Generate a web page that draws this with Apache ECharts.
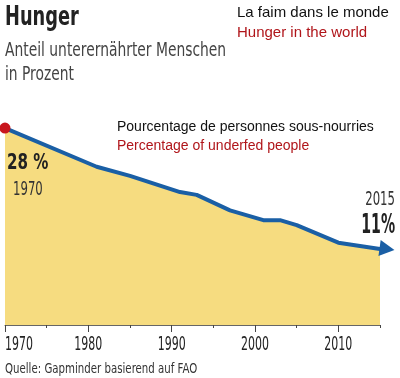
<!DOCTYPE html>
<html>
<head>
<meta charset="utf-8">
<script src="https://cdn.jsdelivr.net/npm/echarts@6/dist/echarts.min.js"></script>
<style>
html,body{margin:0;padding:0;background:#fff;}
#c{width:400px;height:378px;}
</style>
</head>
<body>
<div id="c"></div>
<script>
// Data
const years = [1970, 1981, 1985, 1991, 1993, 1997, 2001, 2003, 2005, 2010, 2015];
const values = [28, 22.5, 21.2, 18.9, 18.5, 16.3, 14.9, 14.9, 14.2, 11.7, 10.8];
const majorTicks = [1970, 1980, 1990, 2000, 2010];
const minorTicks = [1975, 1985, 1995, 2005, 2015];
const startLabel = '28 %';
const endLabel = '11%';

const COND = '"DejaVu Sans Condensed", "DejaVu Sans", sans-serif';
const ARIAL = '"Liberation Sans", Arial, sans-serif';

const chart = echarts.init(document.getElementById('c'), null, {renderer: 'canvas'});

const data = years.map((y, i) => {
  const d = {value: [y, values[i]]};
  if (i === 0) {
    d.symbol = 'circle'; d.symbolSize = 11;
    d.itemStyle = {color: '#c8161d'};
  } else if (i === years.length - 1) {
    d.symbol = 'triangle'; d.symbolSize = [16, 15];
    d.symbolRotate = -98; d.symbolOffset = [7, 0];
    d.itemStyle = {color: '#1a5fa5'};
  }
  return d;
});

function txt(x, y, text, size, opts, sx) {
  return {
    type: 'text', x: x, y: y, silent: true, z: 100, scaleX: sx || 1,
    style: Object.assign({
      text: text, fontSize: size, fontFamily: COND, fill: '#333',
      verticalAlign: 'middle', align: 'left'
    }, opts || {})
  };
}

chart.setOption({
  animation: false,
  grid: {left: 5, right: 20, top: 114, bottom: 53},
  xAxis: [{
    type: 'value', min: 1970, max: 2015, position: 'bottom',
    axisLine: {show: true, onZero: false, lineStyle: {color: '#666', width: 1}},
    axisTick: {show: true, length: 7, lineStyle: {color: '#444'}, customValues: majorTicks},
    axisLabel: {show: false},
    splitLine: {show: false}
  }, {
    type: 'value', min: 1970, max: 2015, position: 'bottom',
    axisLine: {show: false, onZero: false},
    axisTick: {show: true, length: 3, lineStyle: {color: '#444'}, customValues: minorTicks},
    axisLabel: {show: false},
    splitLine: {show: false}
  }],
  yAxis: {type: 'value', min: 0, max: 30, show: false},
  series: [{
    type: 'line', xAxisIndex: 0, data: data,
    symbol: 'none', showSymbol: true, showAllSymbol: true,
    lineStyle: {color: '#1a5fa5', width: 4, join: 'round', cap: 'round'},
    itemStyle: {color: '#1a5fa5'},
    areaStyle: {color: '#f6dc80', opacity: 1},
    z: 3
  }]
});

// Tick labels positioned through the library's x scale (condensed look via scaleX)
const axisLabels = majorTicks.map((v, i) => {
  const px = chart.convertToPixel({xAxisIndex: 0}, v);
  return txt(px, 345, String(v), 20, {fill: '#222', align: i === 0 ? 'left' : 'center'}, 0.61);
});

chart.setOption({
  graphic: [
    txt(5, 18, 'Hunger', 26, {fontWeight: 'bold', fill: '#222'}, 0.76),
    txt(5, 51, 'Anteil unterernährter Menschen', 20, {fill: '#444'}, 0.77),
    txt(5, 75, 'in Prozent', 20, {fill: '#444'}, 0.77),
    txt(237, 13, 'La faim dans le monde', 15, {fontFamily: ARIAL, fill: '#111'}),
    txt(237, 33, 'Hunger in the world', 15, {fontFamily: ARIAL, fill: '#b0151a'}),
    txt(117, 127, 'Pourcentage de personnes sous-nourries', 14, {fontFamily: ARIAL, fill: '#111'}),
    txt(117, 146, 'Percentage of underfed people', 14, {fontFamily: ARIAL, fill: '#b0151a'}),
    txt(7, 164, startLabel, 21, {fontWeight: 'bold', fill: '#222'}, 0.8),
    txt(13, 190, String(years[0]), 20, {fill: '#333'}, 0.65),
    txt(395, 200, String(years[years.length - 1]), 20, {fill: '#333', align: 'right'}, 0.65),
    txt(395, 226, endLabel, 27, {fontWeight: 'bold', fill: '#222', align: 'right'}, 0.58),
    txt(5, 369, 'Quelle: Gapminder basierend auf FAO', 14, {fill: '#333'}, 0.81)
  ].concat(axisLabels)
});
</script>
</body>
</html>
